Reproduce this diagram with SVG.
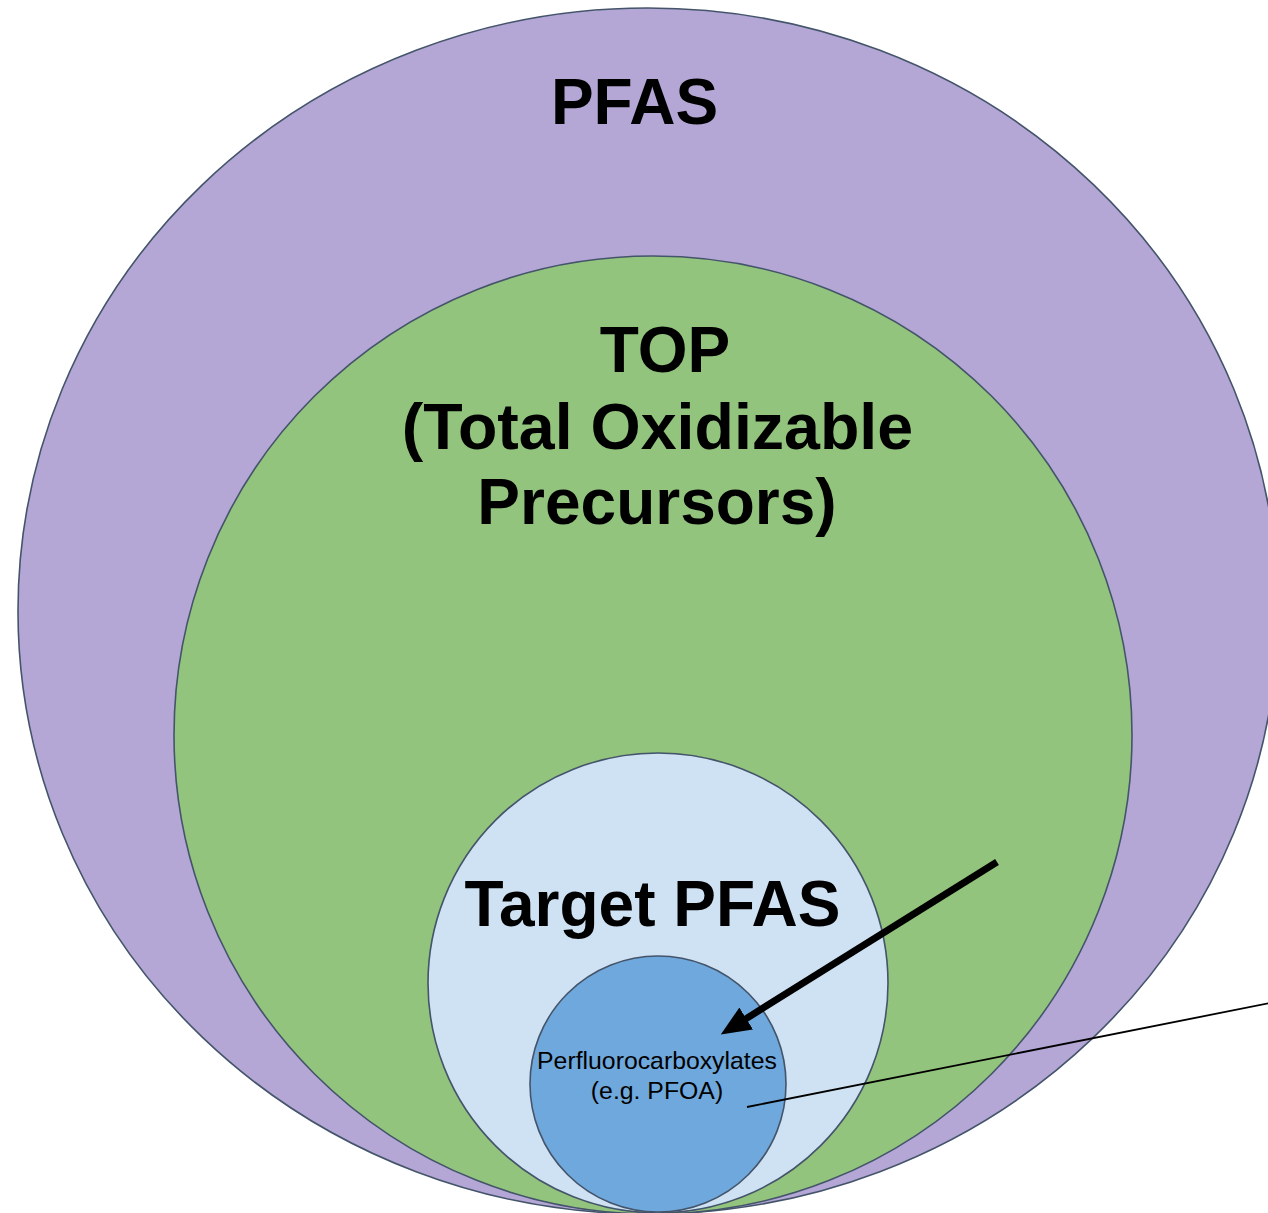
<svg xmlns="http://www.w3.org/2000/svg" width="1268" height="1213" viewBox="0 0 1268 1213">
<style>
.sh{stroke:#44546a;stroke-width:1.6}
.big{font-family:"Liberation Sans",Arial,sans-serif;font-weight:bold;font-size:64px;fill:#000;text-anchor:middle}
.small{font-family:"Liberation Sans",Arial,sans-serif;font-size:24.8px;fill:#000;text-anchor:middle}
</style>
<defs>
<marker id="ah" markerUnits="userSpaceOnUse" viewBox="0 0 30 26" refX="1" refY="13" markerWidth="30" markerHeight="26" orient="auto">
<path d="M0,0 L30,13 L0,26 Z" fill="#000"/>
</marker>
</defs>
<rect width="1268" height="1213" fill="#fff"/>
<g id="pfas">
<ellipse class="sh" cx="648" cy="611" rx="630" ry="603" fill="#b4a7d6"/>
<text class="big" x="634.5" y="124">PFAS</text>
</g>
<g id="top">
<circle class="sh" cx="653" cy="735" r="479" fill="#93c47d"/>
<text class="big" x="665" y="372">TOP</text>
<text class="big" x="657.5" y="449" style="font-size:64.5px">(Total Oxidizable</text>
<text class="big" x="657" y="524">Precursors)</text>
</g>
<g id="target">
<circle class="sh" cx="658" cy="983" r="230" fill="#cfe2f3"/>
<text class="big" x="652.5" y="926">Target PFAS</text>
</g>
<g id="pfca">
<circle class="sh" cx="658" cy="1084" r="128" fill="#6fa8dc"/>
<text class="small" x="657" y="1069">Perfluorocarboxylates</text>
<text class="small" x="657" y="1099">(e.g. PFOA)</text>
</g>
<g id="connectors">
<line x1="997" y1="862" x2="745.4" y2="1019.1" stroke="#000" stroke-width="7" marker-end="url(#ah)"/>
<line x1="747" y1="1107" x2="1270" y2="1003" stroke="#000" stroke-width="1.8"/>
</g>
</svg>
